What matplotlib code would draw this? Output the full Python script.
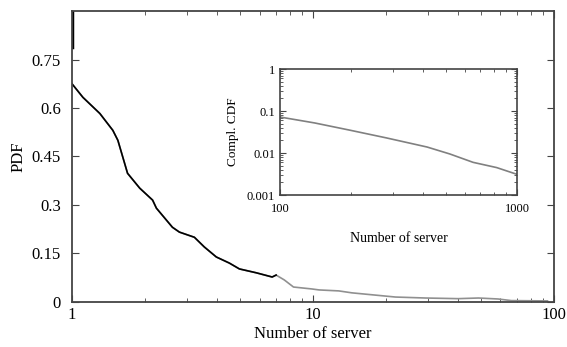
import numpy as np
import matplotlib.pyplot as plt
from matplotlib.ticker import LogLocator, NullFormatter, FixedLocator

plt.rcParams["font.family"] = ["Liberation Serif", "DejaVu Serif"]

# Main plot: PDF of number of servers
pdf_x = [1.0, 1.11, 1.305, 1.477, 1.55, 1.70, 1.91, 2.16, 2.24, 2.61, 2.79,
         3.22, 3.54, 3.97, 4.50, 4.95, 5.82, 6.77, 7.03, 7.6, 8.3, 9.9,
         10.6, 12.8, 14.5, 22.0, 29.3, 40.0, 48.6, 58.6, 66.5, 94.0]
pdf_y = [0.675, 0.633, 0.583, 0.531, 0.50, 0.398, 0.352, 0.315, 0.29, 0.231, 0.216,
         0.20, 0.17, 0.139, 0.12, 0.102, 0.09, 0.077, 0.083, 0.068, 0.046, 0.04,
         0.037, 0.034, 0.028, 0.015, 0.012, 0.010, 0.012, 0.009, 0.004, 0.003]
black_until = 7.1
spike_x = [1.0, 1.0]
spike_y = [0.92, 0.79]

yticks = [0, 0.15, 0.3, 0.45, 0.6, 0.75]
ytick_labels = ["0", "0.15", "0.3", "0.45", "0.6", "0.75"]

# Inset: complementary CDF
ccdf_x = [100, 140, 197, 280, 417, 520, 652, 820, 1000]
ccdf_y = [0.072, 0.052, 0.035, 0.023, 0.0139, 0.0095, 0.006, 0.0045, 0.0031]

fig = plt.figure(figsize=(5.67, 3.47), dpi=100)
ax = fig.add_axes([0.127, 0.130, 0.850, 0.838])

x = np.array(pdf_x)
y = np.array(pdf_y)
ax.plot(x, y, color="#909090", lw=1.2)
m = x <= black_until
ax.plot(x[m], y[m], color="black", lw=1.2)
ax.plot(spike_x, spike_y, color="black", lw=2.5)

ax.set_xscale("log")
ax.set_xlim(1, 100)
ax.set_ylim(0, 0.9)
ax.set_xticks([1, 10, 100])
ax.set_xticklabels(["1", "10", "100"])
ax.xaxis.set_minor_locator(LogLocator(base=10, subs=np.arange(2, 10)))
ax.xaxis.set_minor_formatter(NullFormatter())
ax.set_yticks(yticks)
ax.set_yticklabels(ytick_labels)
ax.tick_params(which="both", direction="in", top=True, right=True,
               labelsize=12, color="#444444")
ax.tick_params(axis="y", pad=8)
ax.tick_params(which="major", length=5)
ax.tick_params(which="minor", length=3)
for s in ax.spines.values():
    s.set_linewidth(1.3)
    s.set_color("#444444")
ax.set_xlabel("Number of server", fontsize=12, labelpad=2)
ax.set_ylabel("PDF", fontsize=12, labelpad=4)

ins = fig.add_axes([0.494, 0.438, 0.418, 0.363])
ins.plot(ccdf_x, ccdf_y, color="#808080", lw=1.2)
ins.set_xscale("log")
ins.set_yscale("log")
ins.set_xlim(100, 1000)
ins.set_ylim(0.001, 1)
ins.xaxis.set_major_locator(FixedLocator([100, 1000]))
ins.set_xticklabels(["100", "1000"])
ins.xaxis.set_minor_locator(LogLocator(base=10, subs=np.arange(2, 10)))
ins.xaxis.set_minor_formatter(NullFormatter())
ins.yaxis.set_major_locator(FixedLocator([0.001, 0.01, 0.1, 1]))
ins.set_yticklabels(["0.001", "0.01", "0.1", "1"])
ins.yaxis.set_minor_locator(LogLocator(base=10, subs=np.arange(2, 10)))
ins.yaxis.set_minor_formatter(NullFormatter())
ins.tick_params(which="both", direction="in", top=True, right=True,
                labelsize=9, color="#444444")
ins.tick_params(axis="x", pad=6)
ins.tick_params(which="major", length=4)
ins.tick_params(which="minor", length=2)
for s in ins.spines.values():
    s.set_linewidth(1.2)
    s.set_color("#444444")
ins.set_xlabel("Number of server", fontsize=10, labelpad=12)
ins.set_ylabel("Compl. CDF", fontsize=9.5, labelpad=6)

fig.savefig("out.png", dpi=100)
